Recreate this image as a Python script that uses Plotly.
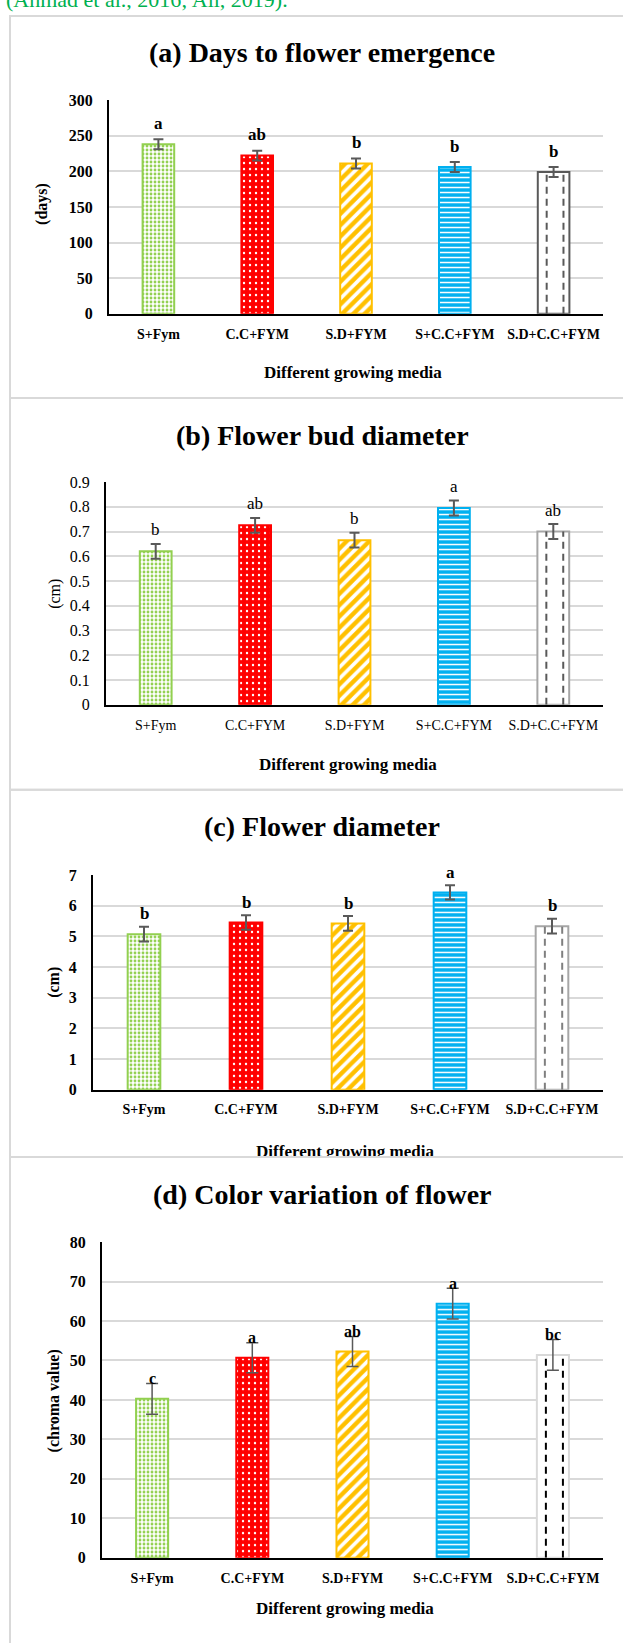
import plotly.graph_objects as go

# ---------------- data ----------------
categories = ["S+Fym", "C.C+FYM", "S.D+FYM", "S+C.C+FYM", "S.D+C.C+FYM"]

days_mean = [238, 222, 211, 206, 199]
days_err = [7, 7, 7, 7, 7]
days_letters = ["a", "ab", "b", "b", "b"]

bud_mean = [0.62, 0.725, 0.665, 0.795, 0.70]
bud_err = [0.03, 0.03, 0.03, 0.03, 0.03]
bud_letters = ["b", "ab", "b", "a", "ab"]

flower_mean = [5.07, 5.45, 5.42, 6.43, 5.33]
flower_err = [0.24, 0.24, 0.24, 0.23, 0.24]
flower_letters = ["b", "b", "b", "a", "b"]

chroma_mean = [40.3, 50.7, 52.3, 64.4, 51.4]
chroma_err = [3.9, 3.8, 3.8, 3.9, 3.9]
chroma_letters = ["c", "a", "ab", "a", "bc"]

# ---------------- page geometry helpers ----------------
W, H = 623, 1643
SERIF = "Liberation Serif"


def fx(px):
    return px / W


def fy(py):
    return 1 - py / H


# per-category bar styling (background, pattern colour, pattern shape, size, solidity, outline)
bar_bg = ["#ffffff", "#ff0000", "#ffc000", "#00b0f0", "#ffffff"]
bar_fg = ["#92d050", "#ffffff", "#ffffff", "#ffffff", "#ffffff"]
bar_shape = [".", ".", "/", "-", ""]
bar_size = [4, 6, 8, 5, 8]
bar_solid = [0.4, 0.12, 0.45, 0.3, 0.3]
bar_edge = ["#92d050", "#ff0000", "#ffc000", "#00b0f0", None]

panels = [
    dict(title="(a) Days to flower emergence", ytitle="(days)",
         mean=days_mean, err=days_err, letters=days_letters,
         rng=[0, 300], dtick=50, x0=109, top=93, bot=309,
         title_y=45, xtitle_pos=(353, 368), ytitle_pos=(42, 198),
         bold=True, letter_shift=16, letter_size=17,
         last_line="#595959", last_dash="#595959", err_w=5, err_t=2),
    dict(title="(b) Flower bud diameter", ytitle="(cm)",
         mean=bud_mean, err=bud_err, letters=bud_letters,
         rng=[0, 0.9], dtick=0.1, x0=106, top=479, bot=704,
         title_y=432, xtitle_pos=(348, 764), ytitle_pos=(55, 592),
         bold=False, letter_shift=14, letter_size=17,
         last_line="#a6a6a6", last_dash="#595959", err_w=5, err_t=2),
    dict(title="(c) Flower diameter", ytitle="(cm)",
         mean=flower_mean, err=flower_err, letters=flower_letters,
         rng=[0, 7], dtick=1, x0=93, top=876, bot=1093,
         title_y=827, xtitle_pos=(345, 1157), ytitle_pos=(54, 984),
         bold=True, letter_shift=13, letter_size=17,
         last_line="#a6a6a6", last_dash="#7f7f7f", err_w=5, err_t=2),
    dict(title="(d) Color variation of flower", ytitle="(chroma value)",
         mean=chroma_mean, err=chroma_err, letters=chroma_letters,
         rng=[0, 80], dtick=10, x0=102, top=1247, bot=1566,
         title_y=1199, xtitle_pos=(345, 1617), ytitle_pos=(54, 1407),
         bold=True, letter_shift=5, letter_size=16,
         last_line="#d9d9d9", last_dash="#000000", err_w=6, err_t=1.5),
]

# panel frames (top, bottom) in page pixels
frames = [(8, 394), (394, 790), (790, 1161), (1161, 1700)]

fig = go.Figure()
layout = dict(
    width=W, height=H, margin=dict(l=0, r=0, t=0, b=0),
    paper_bgcolor="white", plot_bgcolor="rgba(0,0,0,0)", showlegend=False,
    barmode="overlay", annotations=[], shapes=[],
)

X1 = 603
xpos = list(range(len(categories)))

for k, p in enumerate(panels):
    n = k + 1
    xa, ya = (f"x{n}", f"y{n}") if n > 1 else ("x", "y")
    xkey, ykey = (f"xaxis{n}", f"yaxis{n}") if n > 1 else ("xaxis", "yaxis")
    weight = "bold" if p["bold"] else "normal"

    # one trace per bar so each keeps its own pattern fill
    for i in xpos:
        edge = bar_edge[i] or p["last_line"]
        fig.add_trace(go.Bar(
            x=[i], y=[p["mean"][i]], width=0.32, xaxis=xa, yaxis=ya,
            marker=dict(
                color=bar_bg[i],
                line=dict(color=edge, width=2),
                pattern=dict(shape=bar_shape[i], fgcolor=bar_fg[i], bgcolor=bar_bg[i],
                             size=bar_size[i], solidity=bar_solid[i], fillmode="replace"),
            ),
            error_y=dict(type="data", array=[p["err"][i]], color="#595959",
                         thickness=p["err_t"], width=p["err_w"]),
            hoverinfo="skip",
        ))

    # dashed vertical strokes inside the last bar
    last = len(categories) - 1
    for dx in (-0.07, 0.10):
        fig.add_trace(go.Scatter(
            x=[last + dx, last + dx], y=[0, p["mean"][last]],
            xaxis=xa, yaxis=ya, mode="lines",
            line=dict(color=p["last_dash"], width=2, dash="7px,5px"),
            hoverinfo="skip",
        ))

    layout[xkey] = dict(
        domain=[fx(p["x0"]), fx(X1)], anchor=ya, range=[-0.5, 4.5],
        tickmode="array", tickvals=xpos, ticktext=categories,
        showgrid=False, zeroline=False, showline=True, linecolor="black", linewidth=2,
        ticks="", ticklabelstandoff=6,
        tickfont=dict(family=SERIF, size=14, color="black", weight=weight),
        fixedrange=True,
    )
    layout[ykey] = dict(
        domain=[fy(p["bot"]), fy(p["top"])], anchor=xa, range=p["rng"], dtick=p["dtick"],
        showgrid=True, gridcolor="#d9d9d9", gridwidth=2,
        zeroline=False, showline=True, linecolor="black", linewidth=2,
        ticks="", ticklabelstandoff=11,
        tickfont=dict(family=SERIF, size=16, color="black", weight=weight),
        fixedrange=True,
    )

    # significance letters
    for i, lt in enumerate(p["letters"]):
        layout["annotations"].append(dict(
            x=i, y=p["mean"][i] + p["err"][i], xref=xa, yref=ya,
            text=lt, showarrow=False, yanchor="middle", yshift=p["letter_shift"],
            font=dict(family=SERIF, size=p["letter_size"], color="black", weight=weight),
        ))

    # chart title
    layout["annotations"].append(dict(
        x=fx(322), y=fy(p["title_y"]), xref="paper", yref="paper",
        text=p["title"], showarrow=False, xanchor="center", yanchor="middle",
        font=dict(family=SERIF, size=28, color="black", weight="bold"),
    ))
    # y-axis title
    layout["annotations"].append(dict(
        x=fx(p["ytitle_pos"][0]), y=fy(p["ytitle_pos"][1]), xref="paper", yref="paper",
        text=p["ytitle"], showarrow=False, textangle=-90,
        xanchor="center", yanchor="middle",
        font=dict(family=SERIF, size=16, color="black", weight=weight),
    ))

    # x-axis title (panel c's one runs into its frame edge, so it is drawn as clipped text)
    if k != 2:
        layout["annotations"].append(dict(
            x=fx(p["xtitle_pos"][0]), y=fy(p["xtitle_pos"][1]), xref="paper", yref="paper",
            text="Different growing media", showarrow=False,
            xanchor="center", yanchor="middle",
            font=dict(family=SERIF, size=17, color="black", weight="bold"),
        ))

# clipping box for panel c's axis title
top_c, bot_c = frames[2]
fig.add_trace(go.Scatter(
    x=[panels[2]["xtitle_pos"][0]], y=[panels[2]["xtitle_pos"][1]],
    xaxis="x5", yaxis="y5", mode="text", text=["Different growing media"],
    textposition="middle center", cliponaxis=True,
    textfont=dict(family=SERIF, size=17, color="black", weight="bold"),
    hoverinfo="skip",
))
layout["xaxis5"] = dict(domain=[fx(10), 1], range=[10, W], anchor="y5", visible=False, fixedrange=True)
layout["yaxis5"] = dict(domain=[fy(bot_c - 1), fy(top_c)], range=[bot_c - 1, top_c],
                        anchor="x5", visible=False, fixedrange=True)

# panel frames
for t, b in frames:
    layout["shapes"].append(dict(
        type="rect", xref="paper", yref="paper",
        x0=fx(10), x1=fx(W + 20), y0=fy(b), y1=fy(t),
        line=dict(color="#d9d9d9", width=2), fillcolor="rgba(0,0,0,0)", layer="below",
    ))

# running text line at the very top of the page
layout["annotations"].append(dict(
    x=fx(4), y=fy(-9), xref="paper", yref="paper",
    text="(Ahmad et al., 2016; Ali, 2019).", showarrow=False,
    xanchor="left", yanchor="middle",
    font=dict(family=SERIF, size=22, color="#00b050"),
))

fig.update_layout(**layout)
fig.write_html("out.html")
